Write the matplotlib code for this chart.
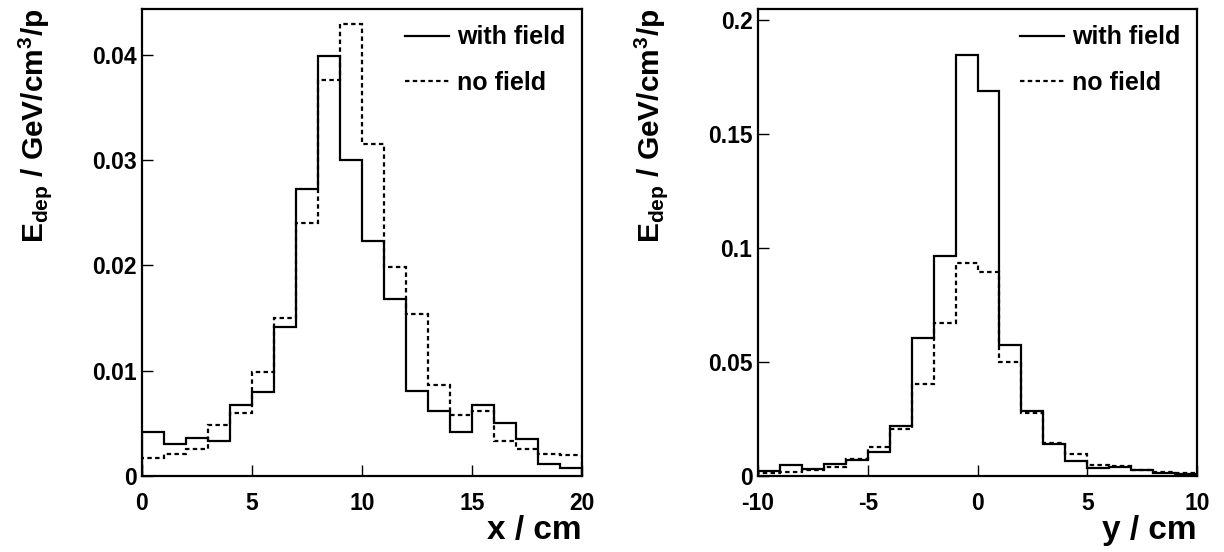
import numpy as np
import matplotlib
matplotlib.use('Agg')
import matplotlib.pyplot as plt

plt.rcParams['font.family'] = ['Liberation Sans', 'DejaVu Sans']
plt.rcParams['font.weight'] = 'bold'
plt.rcParams['mathtext.fontset'] = 'custom'
plt.rcParams['mathtext.rm'] = 'Liberation Sans:bold'
plt.rcParams['mathtext.bf'] = 'Liberation Sans:bold'
plt.rcParams['mathtext.it'] = 'Liberation Sans:bold'

## bin edges
x_edges = np.arange(0, 21, 1)
y_edges = np.arange(-10, 11, 1)

## energy deposit vs x
x_field = [0.0042, 0.0030, 0.0036, 0.0033, 0.0067, 0.0080, 0.0142, 0.0273, 0.0399, 0.0300,
           0.0223, 0.0168, 0.0081, 0.0062, 0.0042, 0.0067, 0.0050, 0.0035, 0.0011, 0.0008]
x_nofield = [0.0017, 0.0021, 0.0026, 0.0048, 0.0060, 0.0099, 0.0150, 0.0240, 0.0376, 0.0429,
             0.0315, 0.0199, 0.0154, 0.0086, 0.0058, 0.0062, 0.0033, 0.0026, 0.0021, 0.0020]

## energy deposit vs y
y_field = [0.0021, 0.0048, 0.0029, 0.0051, 0.0070, 0.0105, 0.0219, 0.0604, 0.0965, 0.1845,
           0.1690, 0.0575, 0.0285, 0.0139, 0.0067, 0.0037, 0.0040, 0.0025, 0.0015, 0.0010]
y_nofield = [0.0015, 0.0018, 0.0026, 0.0038, 0.0076, 0.0126, 0.0205, 0.0405, 0.0670, 0.0936,
             0.0893, 0.0502, 0.0275, 0.0146, 0.0095, 0.0047, 0.0044, 0.0026, 0.0018, 0.0012]

ylabel = r'E$_{\mathregular{dep}}$ / GeV/cm$^{\mathregular{3}}$/p'

fig = plt.figure(figsize=(12.24, 5.52), dpi=100)
ax1 = fig.add_axes([142/1224, 76/552, 440/1224, 467/552])
ax2 = fig.add_axes([758/1224, 76/552, 439/1224, 467/552])

panels = [
    (ax1, x_edges, x_field, x_nofield, 'x / cm', 0.04437, [0, 0.01, 0.02, 0.03, 0.04], ['0', '0.01', '0.02', '0.03', '0.04'], [0, 5, 10, 15, 20]),
    (ax2, y_edges, y_field, y_nofield, 'y / cm', 0.2048, [0, 0.05, 0.1, 0.15, 0.2], ['0', '0.05', '0.1', '0.15', '0.2'], [-10, -5, 0, 5, 10]),
]

for ax, edges, field, nofield, xlab, ymax, yt, ytl, xt in panels:
    ax.stairs(field, edges, color='black', lw=1.6, label='with field')
    ax.stairs(nofield, edges, color='black', lw=1.6, ls=(0, (2, 1.5)), label='no field')
    ax.set_xlim(edges[0], edges[-1])
    ax.set_ylim(0, ymax)
    ax.set_xticks(xt)
    ax.set_xticklabels([str(v) for v in xt])
    ax.set_yticks(yt)
    ax.set_yticklabels(ytl)
    ax.tick_params(direction='in', length=8, width=1, labelsize=16.5)
    ax.tick_params(axis='x', pad=11.5)
    ax.tick_params(axis='y', pad=4)
    for s in ax.spines.values():
        s.set_linewidth(1.6)
    ax.set_xlabel(xlab, fontsize=24, fontweight='bold', loc='right', labelpad=0)
    ax.set_ylabel(ylabel, fontsize=21.5, fontweight='bold', loc='top', labelpad=27)
    ax.legend(loc='upper right', frameon=False, fontsize=18, handlelength=1.75,
              labelspacing=0.85, borderaxespad=0.25, handletextpad=0.35)

plt.savefig('out.png', dpi=100)
